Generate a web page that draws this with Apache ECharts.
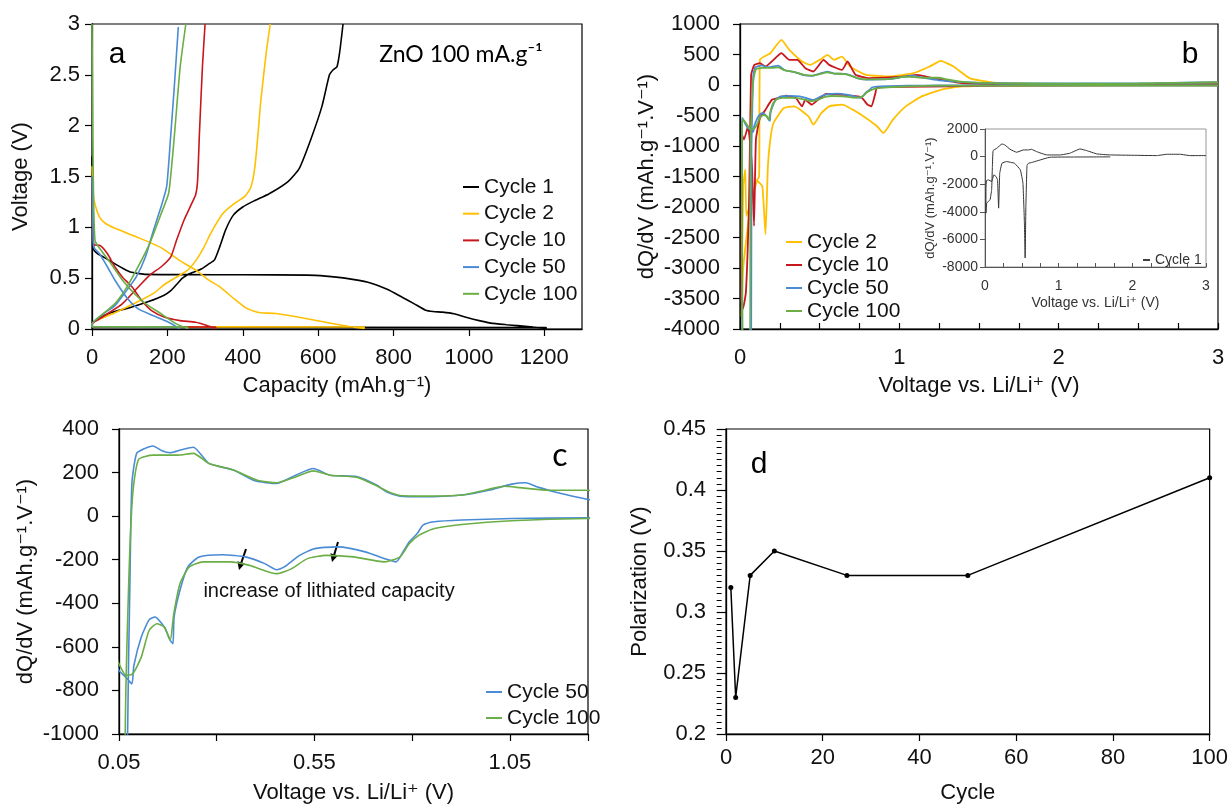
<!DOCTYPE html>
<html><head><meta charset="utf-8">
<script src="https://cdn.jsdelivr.net/npm/echarts@6/dist/echarts.min.js"></script>
<style>html,body{margin:0;padding:0;background:#fff}#c{width:1231px;height:805px}</style>
</head><body><div id="c"></div>
<script>
// ---------- Panel a : voltage vs capacity (discharge, return, charge) ----------
const a_cycle1 = [[0,1.7],[2,1.1],[5,0.78],[15,0.74],[30,0.71],[61,0.64],[85,0.59],[102,0.56],[125,0.545],[142,0.537],[250,0.535],[400,0.533],[570,0.53],[620,0.52],[671,0.5],[732,0.46],[783,0.39],[824,0.31],[854,0.25],[885,0.185],[905,0.172],[930,0.166],[960,0.15],[997,0.11],[1030,0.08],[1058,0.058],[1100,0.042],[1129,0.033],[1170,0.018],[1205,0.006],
  [1205,0.015],[0,0.018],
  [0,0.05],[20,0.11],[50,0.16],[100,0.21],[150,0.27],[190,0.33],[210,0.38],[225,0.44],[240,0.5],[260,0.545],[290,0.59],[310,0.64],[325,0.68],[340,0.82],[355,0.98],[375,1.12],[400,1.2],[430,1.26],[470,1.33],[520,1.45],[550,1.58],[580,1.86],[610,2.19],[630,2.5],[640,2.55],[650,2.58],[657,2.72],[666,3.0]];
const a_cycle2 = [[0,1.6],[4,1.3],[10,1.2],[20,1.1],[35,1.04],[61,0.99],[122,0.9],[183,0.8],[234,0.67],[275,0.58],[310,0.48],[341,0.41],[376,0.3],[407,0.21],[430,0.175],[448,0.16],[488,0.152],[549,0.115],[620,0.066],[681,0.025],[722,0.005],
  [722,0.02],[0,0.022],
  [0,0.05],[10,0.08],[61,0.16],[112,0.25],[163,0.35],[193,0.44],[224,0.51],[254,0.58],[275,0.67],[295,0.79],[315,0.94],[346,1.13],[376,1.23],[407,1.31],[422,1.4],[432,1.59],[440,1.9],[448,2.25],[463,2.74],[473,3.0]];
const a_cycle10 = [[0,1.5],[3,0.9],[5,0.83],[22,0.82],[41,0.74],[61,0.61],[81,0.51],[107,0.41],[132,0.28],[158,0.18],[193,0.115],[234,0.082],[275,0.066],[305,0.035],[328,0.005],
  [328,0.02],[0,0.022],
  [0,0.05],[20,0.1],[41,0.15],[81,0.25],[122,0.41],[153,0.53],[183,0.61],[209,0.71],[224,0.87],[244,1.07],[264,1.23],[275,1.32],[280,1.45],[285,1.92],[293,2.58],[300,3.0]];
const a_cycle50 = [[0,1.5],[3,0.9],[5,0.8],[20,0.74],[41,0.61],[61,0.48],[92,0.31],[122,0.2],[163,0.13],[203,0.066],[232,0.005],
  [232,0.02],[0,0.022],
  [0,0.05],[30,0.15],[61,0.23],[92,0.38],[117,0.51],[142,0.71],[163,0.97],[183,1.2],[198,1.4],[208,1.86],[219,2.42],[229,2.97]];
const a_cycle100 = [[0,3.0],[2,2.0],[3,1.59],[8,0.87],[25,0.77],[51,0.64],[81,0.48],[112,0.35],[142,0.25],[183,0.15],[224,0.05],[254,0.005],
  [254,0.02],[0,0.022],
  [0,0.05],[30,0.15],[61,0.25],[92,0.41],[122,0.61],[153,0.84],[183,1.13],[203,1.33],[210,1.55],[219,1.92],[234,2.58],[249,3.0]];

// ---------- Panel b / c : dQ/dV vs voltage (discharge then charge) ----------
const b_cycle2 = [[3,3],[2.5,2],[2,-2],[1.64,-8],[1.39,-24],[1.26,-78],[1.14,-187],[1.04,-350],[0.96,-568],[0.9,-786],[0.86,-677],[0.76,-487],[0.64,-323],[0.56,-350],[0.51,-460],[0.46,-650],[0.43,-514],[0.34,-350],[0.275,-378],[0.21,-623],[0.19,-900],[0.175,-1331],[0.16,-2447],[0.14,-1658],[0.11,-1576],[0.075,-1876],[0.04,-2148],[0.033,-1385],[0.02,-1658],[0.012,-3237],[0.01,-3800],
  [0.02,-3000],[0.06,-2100],[0.1,-1600],[0.12,-1500],[0.125,412],[0.19,521],[0.26,739],[0.31,575],[0.39,385],[0.44,330],[0.5,412],[0.55,494],[0.59,412],[0.64,466],[0.69,303],[0.79,167],[0.94,140],[1.09,194],[1.19,303],[1.26,395],[1.34,303],[1.44,112],[1.54,58],[1.64,30],[1.89,20],[2.5,12],[3,10]];
const b_cycle10 = [[3,-5],[2,-8],[1.39,-13],[1.31,-24],[0.86,-35],[0.85,-130],[0.825,-350],[0.8,-323],[0.76,-198],[0.64,-160],[0.54,-144],[0.49,-242],[0.45,-323],[0.41,-242],[0.39,-350],[0.35,-214],[0.29,-176],[0.24,-214],[0.2,-242],[0.16,-405],[0.125,-541],[0.1,-895],[0.088,-2311],[0.075,-1331],[0.05,-677],[0.025,-895],[0.012,-813],[0.008,-3509],[0.018,-3672],
  [0.037,-3400],[0.057,-1876],[0.07,167],[0.09,330],[0.125,357],[0.16,303],[0.21,412],[0.26,521],[0.31,412],[0.36,412],[0.41,276],[0.46,221],[0.525,412],[0.56,330],[0.64,248],[0.675,385],[0.725,167],[0.81,112],[1.04,140],[1.11,167],[1.21,112],[1.39,30],[1.64,15],[3,15]];
const b_cycle50 = [[3.0,-5],[2.5,-5],[2.0,-6],[1.5,-7],[1.25,-8],[1.055,-11],[0.927,-18],[0.857,-26],[0.828,-41],[0.813,-80],[0.793,-118],[0.779,-157],[0.759,-210],[0.729,-195],[0.68,-164],[0.611,-141],[0.551,-149],[0.512,-180],[0.473,-233],[0.453,-246],[0.423,-218],[0.374,-187],[0.315,-177],[0.255,-187],[0.226,-233],[0.206,-340],[0.191,-463],[0.188,-586],[0.181,-570],[0.166,-509],[0.142,-463],[0.127,-476],[0.107,-555],[0.088,-686],[0.083,-770],[0.068,-740],[0.05,-709],[0.03,-620],[0.015,-540],[0.012,-700],[0.015,-4200],
  [0.07,-4200],[0.072,-1000],[0.078,-300],[0.083,150],[0.095,288],[0.115,310],[0.137,322],[0.16,300],[0.181,291],[0.21,305],[0.24,316],[0.28,242],[0.344,211],[0.398,162],[0.453,150],[0.502,188],[0.547,219],[0.59,188],[0.66,181],[0.71,142],[0.734,112],[0.769,92],[0.828,89],[0.927,97],[0.996,119],[1.055,147],[1.09,153],[1.124,132],[1.163,112],[1.25,77],[1.35,55],[1.5,35],[1.8,25],[2.2,25],[2.6,30],[3.0,45]];
const b_cycle100 = [[3.0,-8],[2.5,-8],[2.0,-9],[1.5,-10],[1.25,-11],[1.055,-21],[0.927,-38],[0.857,-57],[0.818,-87],[0.793,-126],[0.769,-187],[0.729,-210],[0.65,-187],[0.581,-180],[0.532,-195],[0.492,-241],[0.453,-264],[0.384,-226],[0.334,-210],[0.265,-210],[0.23,-233],[0.206,-310],[0.19,-450],[0.181,-570],[0.166,-509],[0.147,-494],[0.127,-525],[0.107,-647],[0.085,-724],[0.068,-731],[0.05,-678],[0.03,-600],[0.015,-560],[0.012,-900],[0.015,-4200],
  [0.062,-4200],[0.066,-1000],[0.075,-300],[0.085,100],[0.1,260],[0.137,280],[0.2,280],[0.24,288],[0.28,242],[0.344,211],[0.404,165],[0.453,153],[0.502,180],[0.547,208],[0.59,188],[0.66,178],[0.71,138],[0.739,112],[0.769,95],[0.828,92],[0.927,97],[0.986,119],[1.035,137],[1.075,131],[1.144,119],[1.25,119],[1.3,90],[1.4,50],[1.6,30],[2.0,22],[2.5,25],[3.0,45]];

// ---------- Inset : cycle 1 dQ/dV ----------
const inset_cycle1 = [[1.7,-20],[1.2,-30],[0.88,-48],[0.72,-289],[0.63,-434],[0.59,-482],[0.57,-650],[0.555,-3600],[0.545,-7350],[0.535,-4800],[0.515,-1928],[0.48,-964],[0.4,-482],[0.29,-361],[0.23,-482],[0.2,-1205],[0.185,-3735],[0.17,-1687],[0.15,-1446],[0.12,-1325],[0.09,-1807],[0.045,-1687],[0.02,-1735],[0.013,-2290],[0.013,-4100],[0.023,-3374],[0.068,-3133],[0.09,-2400],[0.1,-800],
  [0.11,434],[0.16,600],[0.23,916],[0.27,843],[0.34,530],[0.43,313],[0.52,482],[0.59,482],[0.63,530],[0.7,361],[0.84,120],[1.02,120],[1.15,241],[1.29,554],[1.38,434],[1.52,193],[1.7,120],[2.01,96],[2.33,72],[2.47,169],[2.65,169],[2.78,72],[3,72]];

// ---------- Panel d : polarization ----------
const d_cycles = [1, 2, 5, 10, 25, 50, 100];
const d_polarization = [0.32, 0.23, 0.33, 0.35, 0.33, 0.33, 0.41];

// ---------- Labels ----------
const legendA = ['Cycle 1', 'Cycle 2', 'Cycle 10', 'Cycle 50', 'Cycle 100'];
const legendB = ['Cycle 2', 'Cycle 10', 'Cycle 50', 'Cycle 100'];
const legendC = ['Cycle 50', 'Cycle 100'];
const colors = {'Cycle 1': '#000000', 'Cycle 2': '#FFC000', 'Cycle 10': '#C8161D', 'Cycle 50': '#4A8BD6', 'Cycle 100': '#6AAE45'};

const FONT = '"Liberation Sans", Arial, "DejaVu Sans", sans-serif';
const chart = echarts.init(document.getElementById('c'), null, {renderer: 'canvas'});

const plain = v => String(+v.toFixed(6));
function axisBase(extra) {
  const base = {
    type: 'value',
    splitLine: {show: false},
    axisLine: {show: true, onZero: false, lineStyle: {color: '#000', width: 1.3}},
    axisTick: {show: true, inside: false, length: 7, lineStyle: {color: '#000', width: 1.2}},
    axisLabel: {color: '#111', fontSize: 22, fontFamily: FONT, margin: 18, formatter: plain},
    nameLocation: 'middle',
    nameTextStyle: {color: '#111', fontSize: 22, fontFamily: FONT}
  };
  return echarts.util.merge(base, extra, true);
}
const intOnly = v => (Math.abs(v - Math.round(v)) < 1e-6 ? String(Math.round(v)) : '');
const cLabels = v => { for (const t of [0.05, 0.55, 1.05]) if (Math.abs(v - t) < 1e-6) return t.toFixed(2); return ''; };

function lineSeries(name, data, xi, yi, color, width, smooth) {
  return {type: 'line', name, data, xAxisIndex: xi, yAxisIndex: yi, symbol: 'none', showSymbol: false,
    smooth: smooth, clip: true, lineStyle: {color, width}, itemStyle: {color}, animation: false};
}

const series = [];
const aData = [a_cycle1, a_cycle2, a_cycle10, a_cycle50, a_cycle100];
legendA.forEach((n, i) => series.push(lineSeries(n, aData[i], 0, 0, colors[n], 1.6, 0.2)));
const bData = [b_cycle2, b_cycle10, b_cycle50, b_cycle100];
legendB.forEach((n, i) => series.push(lineSeries(n, bData[i], 1, 1, colors[n], 1.8, 0.15)));
series.push(lineSeries('Cycle 1', inset_cycle1, 2, 2, '#333', 1, 0.1));
const cData = [b_cycle50, b_cycle100];
legendC.forEach((n, i) => series.push(lineSeries(n, cData[i], 3, 3, colors[n], 1.6, 0.2)));
series.push({type: 'line', name: 'Polarization', data: d_cycles.map((c, i) => [c, d_polarization[i]]),
  xAxisIndex: 4, yAxisIndex: 4, symbol: 'circle', symbolSize: 5, showSymbol: true,
  lineStyle: {color: '#000', width: 1.5}, itemStyle: {color: '#000'}, animation: false});

const legendCommon = {orient: 'vertical', icon: 'rect', itemWidth: 16, itemHeight: 2, selectedMode: false,
  textStyle: {fontSize: 21, fontFamily: FONT, color: '#111', lineHeight: 21}};

const option = {
  animation: false,
  backgroundColor: '#fff',
  textStyle: {fontFamily: FONT},
  grid: [
    {left: 92, top: 24, width: 490, height: 305, show: true, borderColor: '#000', borderWidth: 1.2, backgroundColor: 'transparent'},
    {left: 740, top: 24, width: 478, height: 305, show: true, borderColor: '#000', borderWidth: 1.2, backgroundColor: 'transparent'},
    {left: 985, top: 129, width: 221, height: 138, show: true, borderColor: '#999', borderWidth: 1, backgroundColor: '#fff'},
    {left: 119, top: 429, width: 469, height: 305, show: true, borderColor: '#000', borderWidth: 1.2, backgroundColor: 'transparent'},
    {left: 726, top: 429, width: 488, height: 305, show: true, borderColor: '#000', borderWidth: 1.2, backgroundColor: 'transparent'}
  ],
  xAxis: [
    axisBase({gridIndex: 0, min: 0, max: 1300, interval: 200, axisLabel: {showMaxLabel: false, formatter: v => (v > 1250 ? '' : String(v))},
      name: 'Capacity (mAh.g⁻¹)', nameGap: 46}),
    axisBase({gridIndex: 1, min: 0, max: 3, interval: 0.25, axisTick: {inside: true, length: 6}, axisLabel: {formatter: intOnly},
      name: 'Voltage vs. Li/Li⁺ (V)', nameGap: 46}),
    axisBase({gridIndex: 2, min: 0, max: 3, interval: 0.25, axisLine: {lineStyle: {color: '#555', width: 1}},
      axisTick: {inside: true, length: 4, lineStyle: {color: '#555', width: 1}},
      axisLabel: {formatter: intOnly, fontSize: 14, margin: 12, color: '#333'},
      name: 'Voltage vs. Li/Li⁺ (V)', nameGap: 29, nameTextStyle: {fontSize: 14, color: '#333'}}),
    axisBase({gridIndex: 3, min: 0.05, max: 1.25, interval: 0.25, axisLabel: {formatter: cLabels},
      name: 'Voltage vs. Li/Li⁺ (V)', nameGap: 48}),
    axisBase({gridIndex: 4, min: 0, max: 100, interval: 20, axisLabel: {margin: 13}, name: 'Cycle', nameGap: 48})
  ],
  yAxis: [
    axisBase({gridIndex: 0, min: 0, max: 3, interval: 0.5, axisLabel: {margin: 12}, name: 'Voltage (V)', nameGap: 60}),
    axisBase({gridIndex: 1, min: -4000, max: 1000, interval: 500, axisLabel: {margin: 20}, name: 'dQ/dV (mAh.g⁻¹.V⁻¹)', nameGap: 82}),
    axisBase({gridIndex: 2, min: -8000, max: 2000, interval: 2000, axisLine: {lineStyle: {color: '#555', width: 1}},
      axisTick: {length: 5, lineStyle: {color: '#555', width: 1}},
      axisLabel: {fontSize: 14, margin: 7, color: '#333'},
      name: 'dQ/dV (mAh.g⁻¹.V⁻¹)', nameGap: 48, nameTextStyle: {fontSize: 13, color: '#333'}}),
    axisBase({gridIndex: 3, min: -1000, max: 400, interval: 200, axisLabel: {margin: 20}, name: 'dQ/dV (mAh.g⁻¹.V⁻¹)', nameGap: 82}),
    axisBase({gridIndex: 4, position: 'left', min: 0.2, max: 0.45, interval: 0.05, axisLabel: {margin: 20}, axisTick: {length: 9},
      name: 'Polarization (V)', nameGap: 75}),
    // minor tick marks for panel d: a label-less axis moved onto the left edge, ticks pointing outward
    axisBase({gridIndex: 4, position: 'right', offset: -488, min: 0.2, max: 0.45, interval: 0.005, axisLine: {show: false},
      axisTick: {inside: true, length: 5, lineStyle: {width: 1}}, axisLabel: {show: false}})
  ],
  legend: [
    Object.assign({}, legendCommon, {data: legendA, left: 458, top: 171.5, itemGap: 5.7}),
    Object.assign({}, legendCommon, {data: legendB, left: 781, top: 226.5, itemGap: 2}),
    Object.assign({}, legendCommon, {data: ['Cycle 1'], left: 1138, top: 248, itemWidth: 7, itemHeight: 1.5,
      textStyle: {fontSize: 14, fontFamily: FONT, color: '#333', lineHeight: 14}}),
    Object.assign({}, legendCommon, {data: legendC, left: 481, top: 676.5, itemGap: 5})
  ],
  graphic: [
    {type: 'text', x: 117, y: 55, style: {text: 'a', font: '30px ' + FONT, fill: '#000', textAlign: 'center', textVerticalAlign: 'middle'}},
    {type: 'text', x: 461, y: 55, style: {text: 'ZnO 100 mA.g⁻¹', font: '23px Lato, "Open Sans", sans-serif', fill: '#000', textAlign: 'center', textVerticalAlign: 'middle'}},
    {type: 'text', x: 1190, y: 55, style: {text: 'b', font: '30px ' + FONT, fill: '#000', textAlign: 'center', textVerticalAlign: 'middle'}},
    {type: 'text', x: 560, y: 456, style: {text: 'c', font: '32px Lato, "Open Sans", sans-serif', fill: '#000', textAlign: 'center', textVerticalAlign: 'middle'}},
    {type: 'text', x: 759, y: 465, style: {text: 'd', font: '30px ' + FONT, fill: '#000', textAlign: 'center', textVerticalAlign: 'middle'}},
    {type: 'text', x: 329, y: 591, style: {text: 'increase of lithiated capacity', font: '20px ' + FONT, fill: '#111', textAlign: 'center', textVerticalAlign: 'middle'}},
    {type: 'line', shape: {x1: 246, y1: 549, x2: 240.5, y2: 565}, style: {stroke: '#000', lineWidth: 2}},
    {type: 'polygon', shape: {points: [[239, 570], [245, 563.4], [237.4, 561.2]]}, style: {fill: '#000'}},
    {type: 'line', shape: {x1: 338, y1: 542, x2: 333.5, y2: 557}, style: {stroke: '#000', lineWidth: 2}},
    {type: 'polygon', shape: {points: [[332, 562], [338, 555.4], [330.4, 553.2]]}, style: {fill: '#000'}}
  ],
  series
};
chart.setOption(option);
</script></body></html>
